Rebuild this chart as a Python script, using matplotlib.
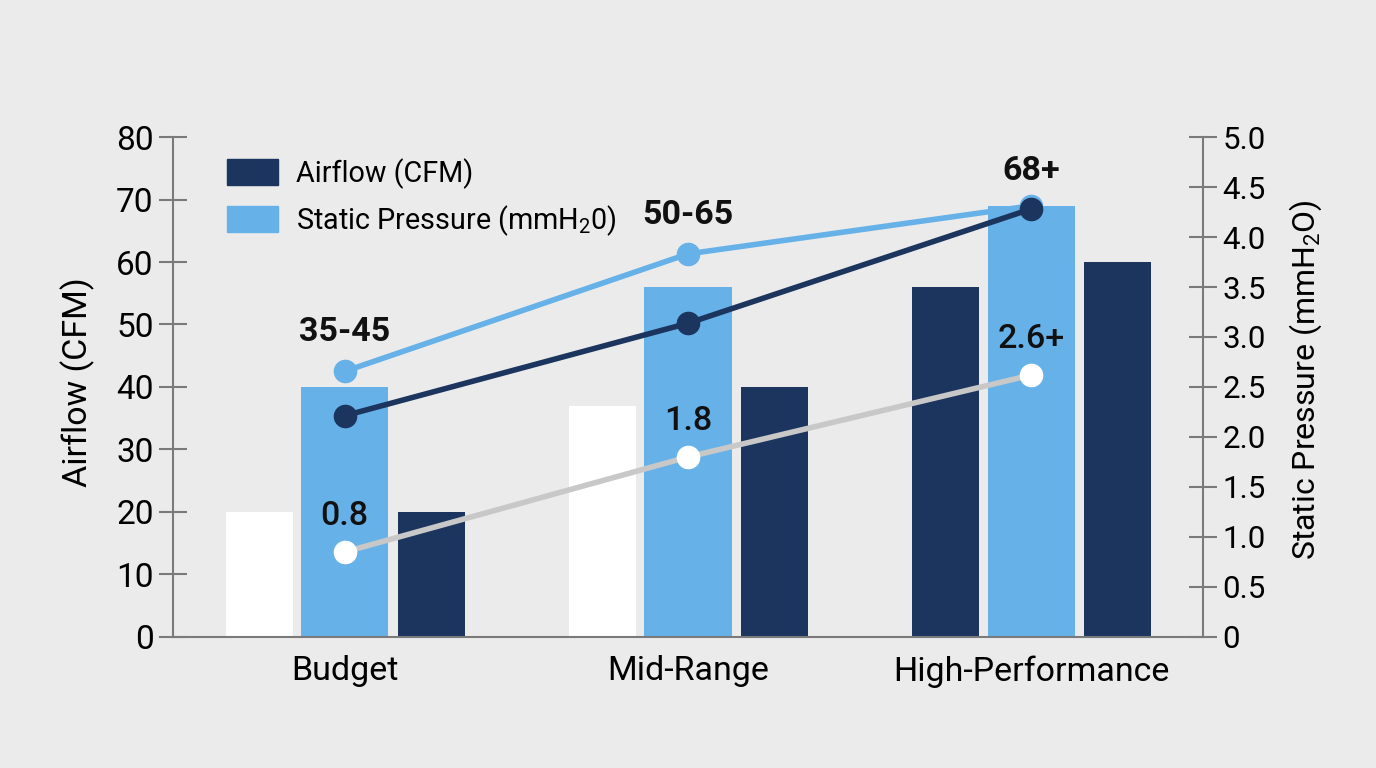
import matplotlib
matplotlib.use("Agg")
import matplotlib.pyplot as plt
import numpy as np
from matplotlib.ticker import FuncFormatter
from matplotlib.patches import Patch

plt.rcParams['font.family'] = ['Roboto', 'DejaVu Sans']
plt.rcParams['mathtext.fontset'] = 'custom'
plt.rcParams['mathtext.rm'] = 'Roboto'
plt.rcParams['mathtext.default'] = 'regular'

# data
categories = ["Budget", "Mid-Range", "High-Performance"]
bar_a = [20, 37, 56]
bar_b = [40, 56, 69]
bar_c = [20, 40, 60]
airflow_hi = [42.5, 61.3, 69.0]
airflow_lo = [35.4, 50.2, 68.5]
pressure = [0.85, 1.8, 2.62]
airflow_text = ["35-45", "50-65", "68+"]
pressure_text = ["0.8", "1.8", "2.6+"]

bg = "#ebebeb"
navy = "#1c355e"
light = "#66b1e8"
line_gray = "#c8c8c8"
spine_gray = "#7a7a7a"
bar_a_colors = ["white", "white", navy]

fig = plt.figure(figsize=(13.76, 7.68), dpi=100, facecolor=bg)
ax = fig.add_axes([0.1257, 0.1706, 0.7486, 0.651])
ax.set_facecolor(bg)
ax2 = ax.twinx()

x = np.arange(len(categories))
ax.bar(x - 0.249, bar_a, width=0.195, color=bar_a_colors, zorder=2)
ax.bar(x, bar_b, width=0.254, color=light, zorder=2)
ax.bar(x + 0.252, bar_c, width=0.195, color=navy, zorder=2)

ax.plot(x, airflow_hi, color=light, lw=4, marker='o', ms=16, zorder=4)
ax.plot(x, airflow_lo, color=navy, lw=4, marker='o', ms=16, zorder=5)
ax2.plot(x, pressure, color=line_gray, lw=4, marker='o', ms=16,
         markerfacecolor='white', markeredgecolor='white', zorder=4)

for xi, yi, t in zip(x, airflow_hi, airflow_text):
    off = 25 if t == "68+" else 28
    ax.annotate(t, (xi, yi), xytext=(0, off), textcoords='offset points',
                ha='center', va='center', fontsize=24.5, fontweight='bold', color='#111111')
for xi, yi, t in zip(x, pressure, pressure_text):
    ax2.annotate(t, (xi, yi), xytext=(0, 26), textcoords='offset points',
                 ha='center', va='center', fontsize=24.5, fontweight='medium', color='#111111')

ax.set_xlim(-0.5, 2.5)
ax.set_ylim(0, 80)
ax2.set_ylim(0, 5)
ax.set_yticks(np.arange(0, 81, 10))
ax2.set_yticks(np.arange(0, 5.01, 0.5))
ax2.yaxis.set_major_formatter(FuncFormatter(lambda v, p: "0" if v == 0 else f"{v:.1f}"))
ax.set_xticks(x)
ax.set_xticklabels(categories, fontsize=24.5)
ax.tick_params(axis='x', length=0, pad=13)
ax.tick_params(axis='y', direction='inout', length=20, width=1.5, color=spine_gray,
               labelsize=24, pad=4)
ax2.tick_params(axis='y', direction='inout', length=20, width=1.5, color=spine_gray,
                labelsize=22.5, pad=4)

for a in (ax, ax2):
    a.spines['top'].set_visible(False)
    for s in ('left', 'right', 'bottom'):
        a.spines[s].set_color(spine_gray)
        a.spines[s].set_linewidth(1.5)
ax.spines['right'].set_visible(False)
ax2.spines['left'].set_visible(False)
ax2.spines['bottom'].set_visible(False)

ax.set_ylabel("Airflow (CFM)", fontsize=24.5)
ax.yaxis.set_label_coords(-0.076, 0.51)
ax2.set_ylabel("Static Pressure (mmH$_2$O)", fontsize=23)
ax2.yaxis.set_label_coords(1.082, 0.515)

handles = [Patch(color=navy), Patch(color=light)]
ax.legend(handles, ["Airflow (CFM)", "Static Pressure (mmH$_2$0)"],
          loc='upper left', bbox_to_anchor=(0.027, 1.01), frameon=False,
          fontsize=20.7, handlelength=1.8, handleheight=1.05, labelspacing=0.5,
          handletextpad=0.6)

fig.savefig("out.png", dpi=100, facecolor=bg)
